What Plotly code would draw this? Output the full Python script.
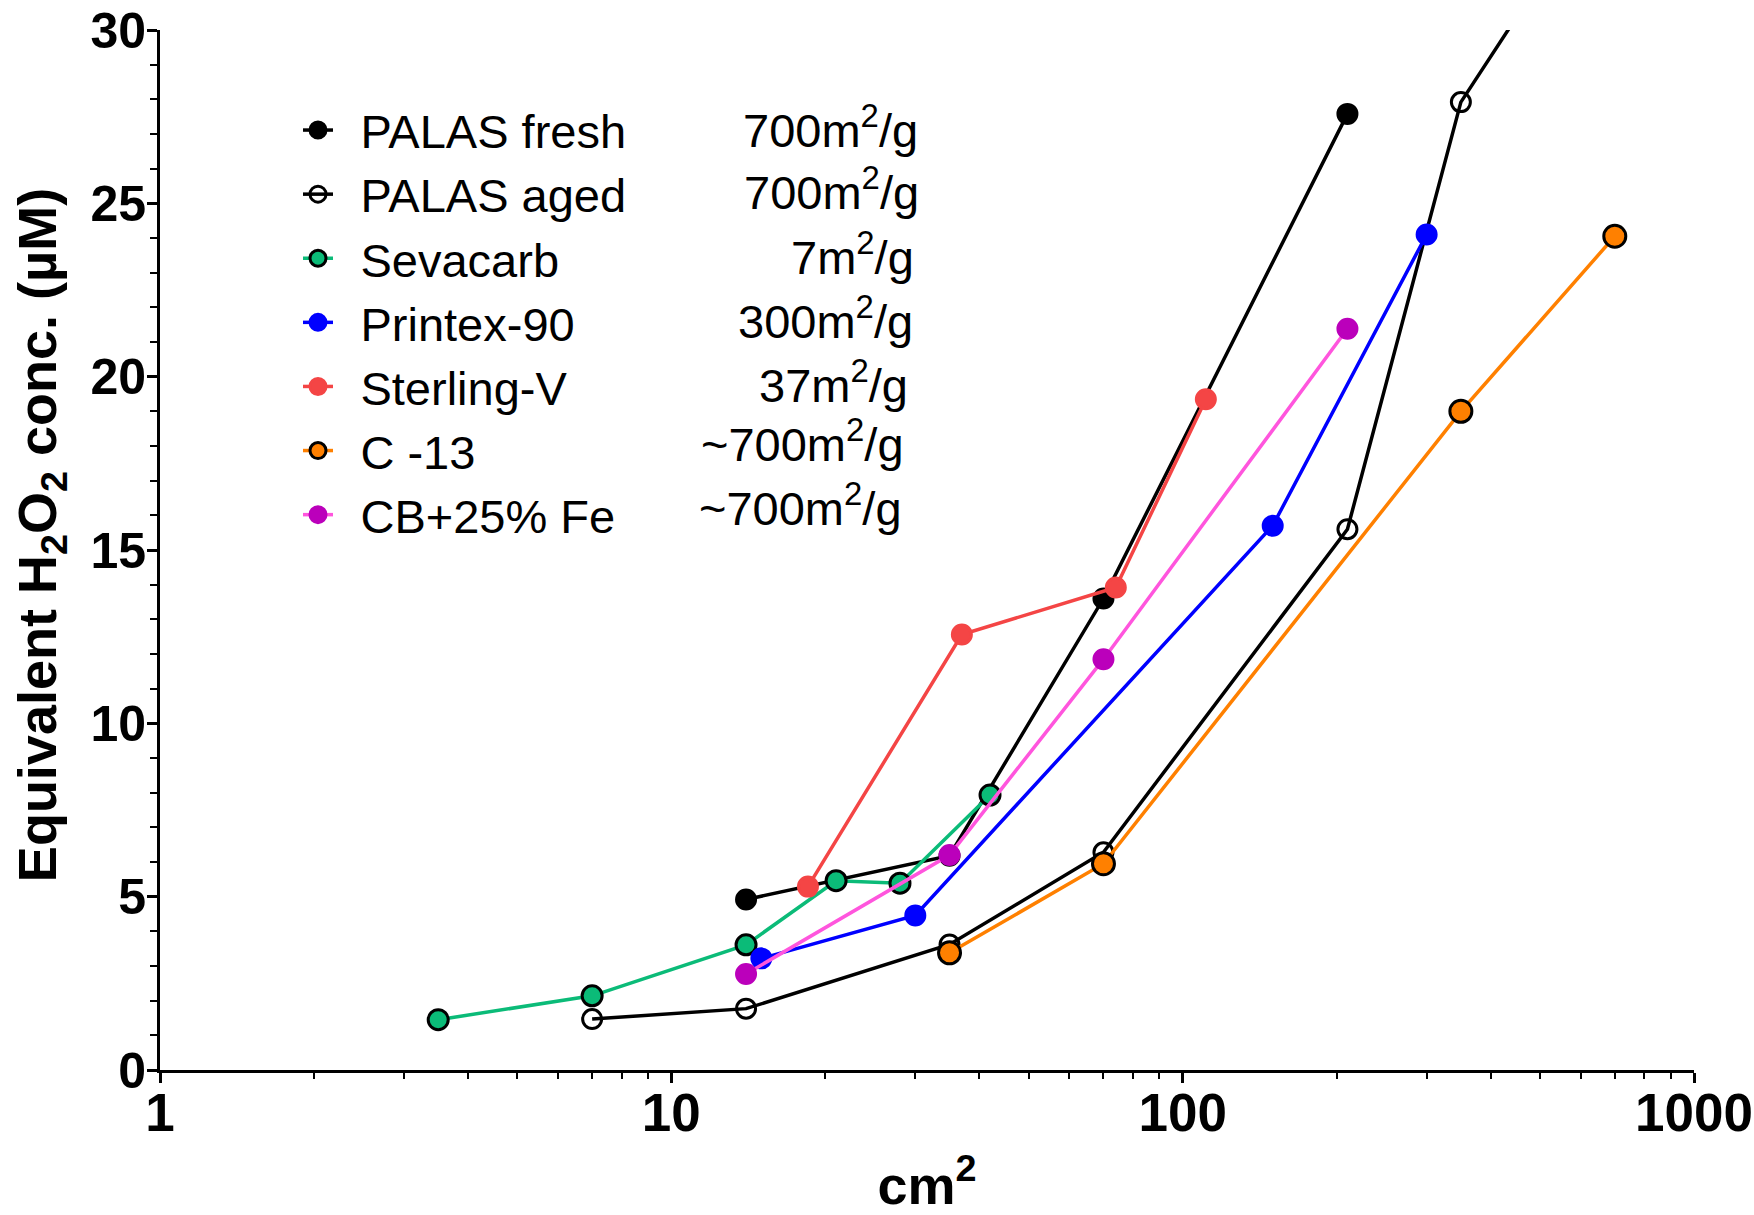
import plotly.graph_objects as go

# ---------------- data ----------------
series_names = ["PALAS fresh", "PALAS aged", "Sevacarb", "Printex-90",
                "Sterling-V", "C -13", "CB+25% Fe"]
surface_areas = ["700m<sup>2</sup>/g", "700m<sup>2</sup>/g", "7m<sup>2</sup>/g",
                 "300m<sup>2</sup>/g", "37m<sup>2</sup>/g", "~700m<sup>2</sup>/g",
                 "~700m<sup>2</sup>/g"]

palas_fresh_x = [14, 35, 70, 210]
palas_fresh_y = [4.92, 6.18, 13.6, 27.58]
palas_aged_x = [7, 14, 35, 70, 210, 350, 700]
palas_aged_y = [1.47, 1.77, 3.62, 6.28, 15.6, 27.92, 34.7]
sevacarb_x = [3.5, 7, 14, 21, 28, 42]
sevacarb_y = [1.45, 2.14, 3.61, 5.46, 5.39, 7.93]
printex_x = [15, 30, 150, 300]
printex_y = [3.22, 4.46, 15.7, 24.1]
sterling_x = [18.5, 37, 74, 111]
sterling_y = [5.29, 12.56, 13.92, 19.35]
c13_x = [35, 70, 350, 700]
c13_y = [3.38, 5.95, 19.0, 24.05]
cbfe_x = [14, 35, 70, 210]
cbfe_y = [2.77, 6.2, 11.85, 21.38]

y_tick_vals = [0, 5, 10, 15, 20, 25, 30]
x_tick_vals = [1, 10, 100, 1000]
x_tick_text = ["1", "10", "100", "1000"]

# ---------------- styles ----------------
FONT = "Arial, 'Liberation Sans', sans-serif"
GREEN = "#0BBB78"
RED = "#F44545"
BLUE = "#0000FF"
ORANGE = "#FF8000"
MAG = "#BB00BB"
PINK = "#FF55DD"
LW = 3.5

traces = [
    dict(x=palas_fresh_x, y=palas_fresh_y, line=dict(color="black", width=LW),
         marker=dict(symbol="circle", size=19, color="black", line=dict(width=3, color="black"))),
    dict(x=palas_aged_x, y=palas_aged_y, line=dict(color="black", width=LW),
         marker=dict(symbol="circle-open", size=19, color="black", line=dict(width=3))),
    dict(x=sevacarb_x, y=sevacarb_y, line=dict(color=GREEN, width=LW),
         marker=dict(symbol="circle", size=20, color=GREEN, line=dict(width=3, color="black"))),
    dict(x=printex_x, y=printex_y, line=dict(color=BLUE, width=LW),
         marker=dict(symbol="circle", size=19, color=BLUE, line=dict(width=3, color=BLUE))),
    dict(x=sterling_x, y=sterling_y, line=dict(color=RED, width=LW),
         marker=dict(symbol="circle", size=19, color=RED, line=dict(width=3, color=RED))),
    dict(x=c13_x, y=c13_y, line=dict(color=ORANGE, width=LW),
         marker=dict(symbol="circle", size=22, color=ORANGE, line=dict(width=3, color="black"))),
    dict(x=cbfe_x, y=cbfe_y, line=dict(color=PINK, width=LW),
         marker=dict(symbol="circle", size=19, color=MAG, line=dict(width=3, color=MAG))),
]

fig = go.Figure()
for i, (name, t) in enumerate(zip(series_names, traces)):
    fig.add_trace(go.Scatter(x=t["x"], y=t["y"], mode="lines+markers",
                             name="\u00a0\u2009" + name, legendgroup=f"g{i}",
                             line=t["line"], marker=t["marker"]))

# right-hand column of the legend (surface areas)
legend_row_y = [127, 189, 254, 318, 382, 441, 505]   # pixel rows
legend_row_right = [920, 921, 916, 915, 910, 906, 904]
PH = 1215
PW = 1754
ML, MR, MT, MB = 160, 60, 30, 145
for txt, ry, rx in zip(surface_areas, legend_row_y, legend_row_right):
    fig.add_annotation(text=txt, xref="paper", yref="paper",
                       x=(rx - ML) / (PW - ML - MR), y=1 - (ry - MT) / (PH - MT - MB),
                       xanchor="right", yanchor="middle", showarrow=False,
                       font=dict(family=FONT, size=47, color="black"))

minor_x = [m * 10 ** d for d in range(3) for m in range(2, 10)]

fig.update_layout(
    width=PW, height=PH,
    margin=dict(l=ML, r=MR, t=MT, b=MB, autoexpand=False),
    paper_bgcolor="white", plot_bgcolor="white",
    font=dict(family=FONT, color="black"),
    showlegend=True,
    legend=dict(x=(298 - ML) / (PW - ML - MR), y=1 - (93 - MT) / (PH - MT - MB),
                xanchor="left", yanchor="top",
                font=dict(family=FONT, size=47, color="black"),
                bgcolor="rgba(0,0,0,0)", borderwidth=0,
                tracegroupgap=3, traceorder="normal", itemsizing="trace"),
    xaxis=dict(type="log", range=[0, 3], showgrid=False, zeroline=False,
               automargin=False,
               showline=True, linecolor="black", linewidth=3,
               ticks="outside", ticklen=10, tickwidth=3, tickcolor="black",
               tickmode="array", tickvals=x_tick_vals, ticktext=x_tick_text,
               ticklabelstandoff=-16,
               tickfont=dict(family=FONT, size=53, color="black", weight="bold"),
               minor=dict(tickmode="array", tickvals=minor_x, ticks="outside",
                          ticklen=6, tickwidth=2, tickcolor="black"),
               title=dict(text="<b>cm<sup>2</sup></b>", standoff=47,
                          font=dict(family=FONT, size=54, color="black"))),
    yaxis=dict(range=[0, 30], showgrid=False, zeroline=False,
               automargin=False,
               showline=True, linecolor="black", linewidth=3,
               ticks="outside", ticklen=10, tickwidth=3, tickcolor="black",
               tickmode="array", tickvals=y_tick_vals,
               ticklabelstandoff=-9,
               tickfont=dict(family=FONT, size=50, color="black", weight="bold"),
               minor=dict(dtick=1, ticks="outside", ticklen=7, tickwidth=2,
                          tickcolor="black"),
               title=dict(text="<b>\u00a0\u00a0Equivalent H<sub>2</sub>O<sub>2</sub> conc. (µM)</b>",
                          standoff=17,
                          font=dict(family=FONT, size=54, color="black"))),
)

fig.write_html("out.html", config={"displayModeBar": False},
               post_script="document.body.style.margin='0';")
